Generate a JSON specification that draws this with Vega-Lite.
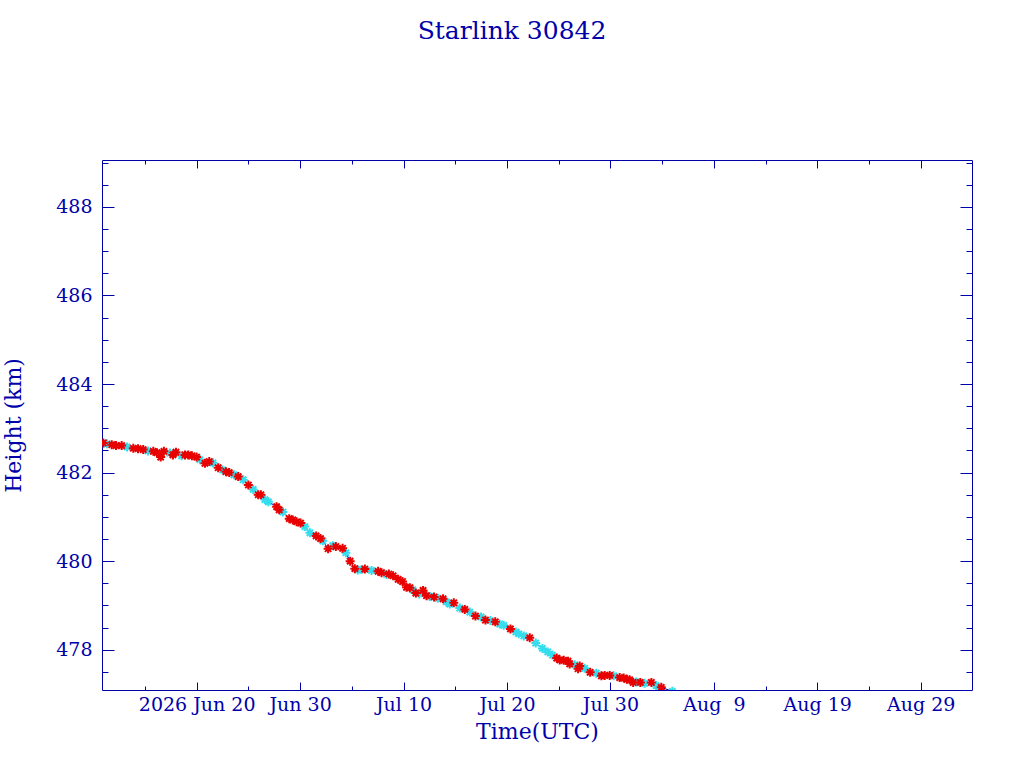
{
  "$schema": "https://vega.github.io/schema/vega-lite/v6.json",
  "width": 870,
  "height": 530,
  "autosize": "none",
  "padding": {"left": 102, "top": 160, "right": 52, "bottom": 78},
  "background": "white",
  "title": {
    "text": "Starlink 30842",
    "anchor": "middle",
    "frame": "group",
    "offset": 116,
    "dx": -25,
    "font": "DejaVu Serif",
    "fontSize": 25,
    "fontWeight": "normal",
    "color": "#0000aa"
  },
  "data": {
    "values": [
      {"t": "2026-06-10T23:30:00Z", "h": 482.67, "s": "r"},
      {"t": "2026-06-11T08:00:00Z", "h": 482.65, "s": "c"},
      {"t": "2026-06-11T19:00:00Z", "h": 482.63, "s": "r"},
      {"t": "2026-06-12T05:00:00Z", "h": 482.61, "s": "r"},
      {"t": "2026-06-12T18:00:00Z", "h": 482.61, "s": "r"},
      {"t": "2026-06-13T06:30:00Z", "h": 482.58, "s": "c"},
      {"t": "2026-06-13T21:00:00Z", "h": 482.55, "s": "r"},
      {"t": "2026-06-14T08:00:00Z", "h": 482.54, "s": "r"},
      {"t": "2026-06-14T20:00:00Z", "h": 482.52, "s": "r"},
      {"t": "2026-06-15T07:00:00Z", "h": 482.49, "s": "c"},
      {"t": "2026-06-15T19:30:00Z", "h": 482.48, "s": "r"},
      {"t": "2026-06-16T04:00:00Z", "h": 482.45, "s": "r"},
      {"t": "2026-06-16T12:30:00Z", "h": 482.35, "s": "r"},
      {"t": "2026-06-16T20:00:00Z", "h": 482.48, "s": "r"},
      {"t": "2026-06-17T10:00:00Z", "h": 482.44, "s": "c"},
      {"t": "2026-06-17T17:00:00Z", "h": 482.40, "s": "r"},
      {"t": "2026-06-18T00:00:00Z", "h": 482.46, "s": "r"},
      {"t": "2026-06-18T13:00:00Z", "h": 482.38, "s": "c"},
      {"t": "2026-06-18T21:00:00Z", "h": 482.40, "s": "r"},
      {"t": "2026-06-19T04:30:00Z", "h": 482.40, "s": "r"},
      {"t": "2026-06-19T13:00:00Z", "h": 482.38, "s": "r"},
      {"t": "2026-06-20T00:00:00Z", "h": 482.35, "s": "r"},
      {"t": "2026-06-20T07:40:00Z", "h": 482.29, "s": "c"},
      {"t": "2026-06-20T19:15:00Z", "h": 482.21, "s": "r"},
      {"t": "2026-06-21T05:15:00Z", "h": 482.25, "s": "r"},
      {"t": "2026-06-21T13:45:00Z", "h": 482.22, "s": "c"},
      {"t": "2026-06-22T02:00:00Z", "h": 482.11, "s": "r"},
      {"t": "2026-06-22T12:15:00Z", "h": 482.06, "s": "c"},
      {"t": "2026-06-22T20:00:00Z", "h": 482.02, "s": "r"},
      {"t": "2026-06-23T03:40:00Z", "h": 482.00, "s": "r"},
      {"t": "2026-06-23T14:30:00Z", "h": 481.95, "s": "c"},
      {"t": "2026-06-24T00:30:00Z", "h": 481.91, "s": "r"},
      {"t": "2026-06-24T12:00:00Z", "h": 481.84, "s": "c"},
      {"t": "2026-06-25T00:00:00Z", "h": 481.72, "s": "r"},
      {"t": "2026-06-25T11:15:00Z", "h": 481.62, "s": "c"},
      {"t": "2026-06-25T22:50:00Z", "h": 481.50, "s": "r"},
      {"t": "2026-06-26T05:00:00Z", "h": 481.50, "s": "r"},
      {"t": "2026-06-26T14:25:00Z", "h": 481.39, "s": "c"},
      {"t": "2026-06-26T22:30:00Z", "h": 481.34, "s": "c"},
      {"t": "2026-06-27T17:30:00Z", "h": 481.23, "s": "r"},
      {"t": "2026-06-27T23:30:00Z", "h": 481.16, "s": "r"},
      {"t": "2026-06-28T08:10:00Z", "h": 481.11, "s": "c"},
      {"t": "2026-06-28T22:50:00Z", "h": 480.96, "s": "r"},
      {"t": "2026-06-29T07:10:00Z", "h": 480.93, "s": "r"},
      {"t": "2026-06-29T15:50:00Z", "h": 480.89, "s": "r"},
      {"t": "2026-06-30T01:10:00Z", "h": 480.86, "s": "r"},
      {"t": "2026-06-30T11:00:00Z", "h": 480.78, "s": "c"},
      {"t": "2026-06-30T22:50:00Z", "h": 480.64, "s": "c"},
      {"t": "2026-07-01T13:10:00Z", "h": 480.57, "s": "r"},
      {"t": "2026-07-01T23:30:00Z", "h": 480.51, "s": "r"},
      {"t": "2026-07-02T04:50:00Z", "h": 480.46, "s": "c"},
      {"t": "2026-07-02T17:00:00Z", "h": 480.28, "s": "r"},
      {"t": "2026-07-03T04:00:00Z", "h": 480.35, "s": "c"},
      {"t": "2026-07-03T11:00:00Z", "h": 480.33, "s": "r"},
      {"t": "2026-07-04T02:40:00Z", "h": 480.29, "s": "r"},
      {"t": "2026-07-04T10:10:00Z", "h": 480.19, "s": "c"},
      {"t": "2026-07-04T20:10:00Z", "h": 480.00, "s": "r"},
      {"t": "2026-07-05T07:00:00Z", "h": 479.83, "s": "r"},
      {"t": "2026-07-05T14:00:00Z", "h": 479.80, "s": "c"},
      {"t": "2026-07-05T22:35:00Z", "h": 479.81, "s": "c"},
      {"t": "2026-07-06T06:15:00Z", "h": 479.82, "s": "r"},
      {"t": "2026-07-06T21:50:00Z", "h": 479.79, "s": "c"},
      {"t": "2026-07-07T13:00:00Z", "h": 479.77, "s": "r"},
      {"t": "2026-07-07T21:00:00Z", "h": 479.74, "s": "r"},
      {"t": "2026-07-08T08:35:00Z", "h": 479.70, "s": "c"},
      {"t": "2026-07-08T13:55:00Z", "h": 479.71, "s": "r"},
      {"t": "2026-07-08T23:50:00Z", "h": 479.67, "s": "r"},
      {"t": "2026-07-09T11:30:00Z", "h": 479.59, "s": "r"},
      {"t": "2026-07-09T21:40:00Z", "h": 479.54, "s": "r"},
      {"t": "2026-07-10T06:55:00Z", "h": 479.41, "s": "r"},
      {"t": "2026-07-10T14:40:00Z", "h": 479.40, "s": "r"},
      {"t": "2026-07-10T21:40:00Z", "h": 479.35, "s": "c"},
      {"t": "2026-07-11T04:30:00Z", "h": 479.28, "s": "r"},
      {"t": "2026-07-11T12:30:00Z", "h": 479.26, "s": "c"},
      {"t": "2026-07-11T21:20:00Z", "h": 479.34, "s": "r"},
      {"t": "2026-07-12T05:15:00Z", "h": 479.22, "s": "r"},
      {"t": "2026-07-12T13:00:00Z", "h": 479.20, "s": "c"},
      {"t": "2026-07-12T22:50:00Z", "h": 479.19, "s": "r"},
      {"t": "2026-07-13T07:30:00Z", "h": 479.16, "s": "c"},
      {"t": "2026-07-13T19:45:00Z", "h": 479.15, "s": "r"},
      {"t": "2026-07-14T03:10:00Z", "h": 479.08, "s": "c"},
      {"t": "2026-07-14T11:20:00Z", "h": 479.03, "s": "c"},
      {"t": "2026-07-14T20:35:00Z", "h": 479.06, "s": "r"},
      {"t": "2026-07-15T10:30:00Z", "h": 478.94, "s": "c"},
      {"t": "2026-07-15T22:05:00Z", "h": 478.91, "s": "r"},
      {"t": "2026-07-16T09:40:00Z", "h": 478.85, "s": "c"},
      {"t": "2026-07-16T22:50:00Z", "h": 478.76, "s": "r"},
      {"t": "2026-07-17T11:55:00Z", "h": 478.74, "s": "c"},
      {"t": "2026-07-17T22:05:00Z", "h": 478.67, "s": "r"},
      {"t": "2026-07-18T09:40:00Z", "h": 478.66, "s": "c"},
      {"t": "2026-07-18T20:50:00Z", "h": 478.63, "s": "r"},
      {"t": "2026-07-19T07:15:00Z", "h": 478.58, "s": "c"},
      {"t": "2026-07-19T16:30:00Z", "h": 478.55, "s": "c"},
      {"t": "2026-07-20T08:05:00Z", "h": 478.47, "s": "r"},
      {"t": "2026-07-20T20:25:00Z", "h": 478.40, "s": "c"},
      {"t": "2026-07-21T03:20:00Z", "h": 478.36, "s": "c"},
      {"t": "2026-07-21T15:00:00Z", "h": 478.31, "s": "c"},
      {"t": "2026-07-22T04:50:00Z", "h": 478.27, "s": "r"},
      {"t": "2026-07-22T18:45:00Z", "h": 478.15, "s": "c"},
      {"t": "2026-07-23T10:20:00Z", "h": 478.03, "s": "c"},
      {"t": "2026-07-23T22:35:00Z", "h": 477.95, "s": "c"},
      {"t": "2026-07-24T09:25:00Z", "h": 477.88, "s": "c"},
      {"t": "2026-07-24T19:25:00Z", "h": 477.81, "s": "r"},
      {"t": "2026-07-25T02:25:00Z", "h": 477.77, "s": "r"},
      {"t": "2026-07-25T11:45:00Z", "h": 477.76, "s": "r"},
      {"t": "2026-07-25T21:40:00Z", "h": 477.74, "s": "r"},
      {"t": "2026-07-26T01:30:00Z", "h": 477.68, "s": "r"},
      {"t": "2026-07-26T13:10:00Z", "h": 477.66, "s": "c"},
      {"t": "2026-07-26T20:55:00Z", "h": 477.57, "s": "r"},
      {"t": "2026-07-27T00:45:00Z", "h": 477.63, "s": "r"},
      {"t": "2026-07-27T12:20:00Z", "h": 477.58, "s": "c"},
      {"t": "2026-07-28T01:00:00Z", "h": 477.49, "s": "r"},
      {"t": "2026-07-28T15:25:00Z", "h": 477.47, "s": "c"},
      {"t": "2026-07-29T03:05:00Z", "h": 477.41, "s": "r"},
      {"t": "2026-07-29T10:50:00Z", "h": 477.42, "s": "r"},
      {"t": "2026-07-29T22:20:00Z", "h": 477.42, "s": "r"},
      {"t": "2026-07-30T07:40:00Z", "h": 477.41, "s": "c"},
      {"t": "2026-07-30T21:25:00Z", "h": 477.37, "s": "r"},
      {"t": "2026-07-31T06:45:00Z", "h": 477.36, "s": "r"},
      {"t": "2026-07-31T14:25:00Z", "h": 477.33, "s": "r"},
      {"t": "2026-07-31T20:40:00Z", "h": 477.32, "s": "r"},
      {"t": "2026-08-01T04:50:00Z", "h": 477.26, "s": "r"},
      {"t": "2026-08-01T12:15:00Z", "h": 477.27, "s": "c"},
      {"t": "2026-08-01T21:25:00Z", "h": 477.26, "s": "r"},
      {"t": "2026-08-02T07:25:00Z", "h": 477.24, "s": "c"},
      {"t": "2026-08-02T23:00:00Z", "h": 477.26, "s": "r"},
      {"t": "2026-08-03T10:05:00Z", "h": 477.19, "s": "c"},
      {"t": "2026-08-03T22:05:00Z", "h": 477.15, "s": "r"},
      {"t": "2026-08-04T23:45:00Z", "h": 477.06, "s": "c"}
    ]
  },
  "layer": [
    {
      "mark": {"type": "line", "color": "#0000aa", "strokeWidth": 1, "clip": true},
      "encoding": {
        "x": {
          "field": "t", "type": "temporal",
          "scale": {"type": "utc", "domain": [{"year": 2026, "month": 6, "date": 10, "hours": 20, "minutes": 24, "utc": true}, {"year": 2026, "month": 9, "date": 2, "hours": 23, "utc": true}]},
          "axis": {
            "orient": "bottom",
            "values": [
              {"year": 2026, "month": 6, "date": 20, "utc": true},
              {"year": 2026, "month": 6, "date": 30, "utc": true},
              {"year": 2026, "month": 7, "date": 10, "utc": true},
              {"year": 2026, "month": 7, "date": 20, "utc": true},
              {"year": 2026, "month": 7, "date": 30, "utc": true},
              {"year": 2026, "month": 8, "date": 9, "utc": true},
              {"year": 2026, "month": 8, "date": 19, "utc": true},
              {"year": 2026, "month": 8, "date": 29, "utc": true}
            ],
            "labelExpr": "(utcmonth(datum.value) == 5 && utcdate(datum.value) == 20 ? '2026 ' : '') + utcFormat(datum.value, '%b ') + (utcdate(datum.value) < 10 ? '\u00a0' : '') + utcdate(datum.value)",
            "tickSize": -8,
            "labelPadding": 13,
            "title": "Time(UTC)",
            "titlePadding": 7
          }
        },
        "y": {
          "field": "h", "type": "quantitative",
          "scale": {"domain": [477.09, 489.06], "nice": false, "zero": false},
          "axis": {
            "orient": "left",
            "values": [478, 480, 482, 484, 486, 488],
            "format": "d",
            "tickSize": -12,
            "labelPadding": 22,
            "title": "Height (km)",
            "titlePadding": 30
          }
        }
      }
    },
    {
      "transform": [{"filter": "datum.s == 'c'"}],
      "mark": {"type": "point", "shape": "M-1,0L1,0M0,-1L0,1M-0.7,-0.7L0.7,0.7M-0.7,0.7L0.7,-0.7", "filled": false, "size": 81, "strokeWidth": 2, "color": "#33ddee", "opacity": 1, "clip": true},
      "encoding": {
        "x": {
          "field": "t", "type": "temporal",
          "axis": {
            "orient": "bottom",
            "values": [
              {"year": 2026, "month": 6, "date": 15, "utc": true},
              {"year": 2026, "month": 6, "date": 25, "utc": true},
              {"year": 2026, "month": 7, "date": 5, "utc": true},
              {"year": 2026, "month": 7, "date": 15, "utc": true},
              {"year": 2026, "month": 7, "date": 25, "utc": true},
              {"year": 2026, "month": 8, "date": 4, "utc": true},
              {"year": 2026, "month": 8, "date": 14, "utc": true},
              {"year": 2026, "month": 8, "date": 24, "utc": true}
            ],
            "tickSize": -4, "labels": false, "title": null
          }
        },
        "y": {
          "field": "h", "type": "quantitative",
          "axis": {
            "orient": "left",
            "values": [477.5, 478.5, 479, 479.5, 480.5, 481, 481.5, 482.5, 483, 483.5, 484.5, 485, 485.5, 486.5, 487, 487.5, 488.5, 489],
            "tickSize": -6, "labels": false, "title": null
          }
        }
      }
    },
    {
      "transform": [{"filter": "datum.s == 'r'"}],
      "mark": {"type": "point", "shape": "M-1,0L1,0M0,-1L0,1M-0.7,-0.7L0.7,0.7M-0.7,0.7L0.7,-0.7", "filled": false, "size": 81, "strokeWidth": 2, "color": "#e80000", "opacity": 1, "clip": true},
      "encoding": {
        "x": {
          "field": "t", "type": "temporal",
          "axis": {
            "orient": "top",
            "values": [
              {"year": 2026, "month": 6, "date": 20, "utc": true},
              {"year": 2026, "month": 6, "date": 30, "utc": true},
              {"year": 2026, "month": 7, "date": 10, "utc": true},
              {"year": 2026, "month": 7, "date": 20, "utc": true},
              {"year": 2026, "month": 7, "date": 30, "utc": true},
              {"year": 2026, "month": 8, "date": 9, "utc": true},
              {"year": 2026, "month": 8, "date": 19, "utc": true},
              {"year": 2026, "month": 8, "date": 29, "utc": true}
            ],
            "tickSize": -8, "labels": false, "title": null
          }
        },
        "y": {
          "field": "h", "type": "quantitative",
          "axis": {
            "orient": "right",
            "values": [478, 480, 482, 484, 486, 488],
            "tickSize": -12, "labels": false, "title": null
          }
        }
      }
    },
    {
      "mark": {"type": "point", "opacity": 0},
      "encoding": {
        "x": {
          "field": "t", "type": "temporal",
          "axis": {
            "orient": "top",
            "values": [
              {"year": 2026, "month": 6, "date": 15, "utc": true},
              {"year": 2026, "month": 6, "date": 25, "utc": true},
              {"year": 2026, "month": 7, "date": 5, "utc": true},
              {"year": 2026, "month": 7, "date": 15, "utc": true},
              {"year": 2026, "month": 7, "date": 25, "utc": true},
              {"year": 2026, "month": 8, "date": 4, "utc": true},
              {"year": 2026, "month": 8, "date": 14, "utc": true},
              {"year": 2026, "month": 8, "date": 24, "utc": true}
            ],
            "tickSize": -4, "labels": false, "title": null
          }
        },
        "y": {
          "field": "h", "type": "quantitative",
          "axis": {
            "orient": "right",
            "values": [477.5, 478.5, 479, 479.5, 480.5, 481, 481.5, 482.5, 483, 483.5, 484.5, 485, 485.5, 486.5, 487, 487.5, 488.5, 489],
            "tickSize": -6, "labels": false, "title": null
          }
        }
      }
    }
  ],
  "resolve": {"axis": {"x": "independent", "y": "independent"}},
  "config": {
    "view": {"stroke": "#0000aa", "strokeWidth": 1},
    "axis": {
      "domain": false,
      "grid": false,
      "tickColor": "#0000aa",
      "tickWidth": 1,
      "labelFont": "DejaVu Serif",
      "labelFontSize": 19,
      "labelColor": "#0000aa",
      "labelFlush": false,
      "labelOverlap": false,
      "titleFont": "DejaVu Serif",
      "titleFontSize": 22,
      "titleFontWeight": "normal",
      "titleColor": "#0000aa"
    }
  }
}
